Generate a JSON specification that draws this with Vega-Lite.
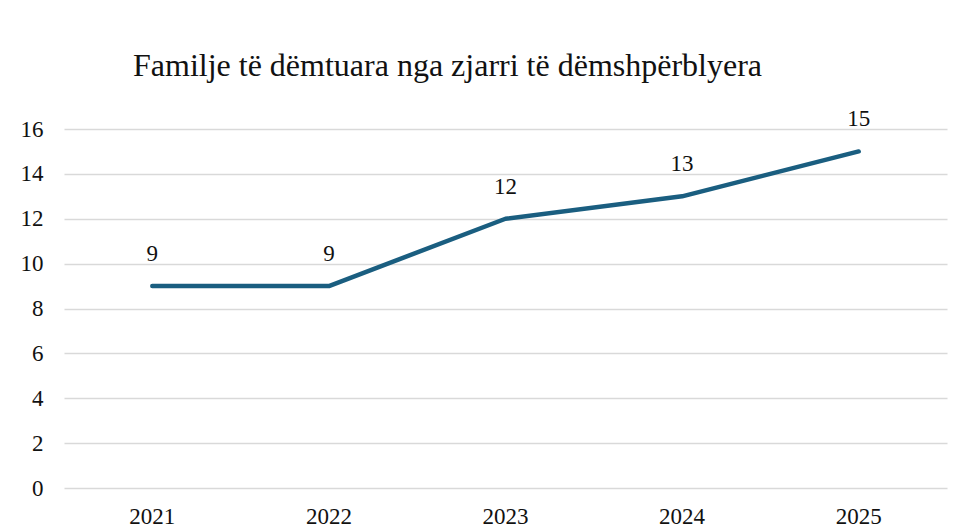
{
  "$schema": "https://vega.github.io/schema/vega-lite/v6.json",
  "width": 883,
  "height": 359,
  "autosize": {"type": "none"},
  "padding": {"left": 64, "top": 129, "right": 22, "bottom": 43},
  "background": "white",
  "title": {
    "text": "Familje të dëmtuara nga zjarri të dëmshpërblyera",
    "anchor": "start",
    "frame": "group",
    "dx": 69,
    "offset": 25,
    "font": "Liberation Serif",
    "fontSize": 32,
    "fontWeight": "normal",
    "color": "#111111"
  },
  "data": {
    "values": [
      {"year": "2021", "value": 9},
      {"year": "2022", "value": 9},
      {"year": "2023", "value": 12},
      {"year": "2024", "value": 13},
      {"year": "2025", "value": 15}
    ]
  },
  "encoding": {
    "x": {
      "field": "year",
      "type": "ordinal",
      "scale": {"type": "band", "paddingInner": 0, "paddingOuter": 0},
      "axis": {
        "title": null,
        "labelAngle": 0,
        "ticks": false,
        "domain": false,
        "labelPadding": 17,
        "labelFont": "Liberation Serif",
        "labelFontSize": 23,
        "labelColor": "#111111"
      }
    },
    "y": {
      "field": "value",
      "type": "quantitative",
      "scale": {"domain": [0, 16], "nice": false},
      "axis": {
        "title": null,
        "values": [0, 2, 4, 6, 8, 10, 12, 14, 16],
        "ticks": false,
        "domain": false,
        "labelPadding": 21,
        "labelFont": "Liberation Serif",
        "labelFontSize": 23,
        "labelColor": "#111111",
        "gridColor": "#d9d9d9",
        "gridWidth": 1.5
      }
    }
  },
  "layer": [
    {
      "mark": {"type": "line", "color": "#1a5e80", "strokeWidth": 4.5, "strokeCap": "round", "strokeJoin": "round"}
    },
    {
      "mark": {"type": "text", "dy": -32, "baseline": "middle", "font": "Liberation Serif", "fontSize": 23, "color": "#111111"},
      "encoding": {"text": {"field": "value", "type": "quantitative"}}
    }
  ],
  "config": {"view": {"stroke": null}}
}
